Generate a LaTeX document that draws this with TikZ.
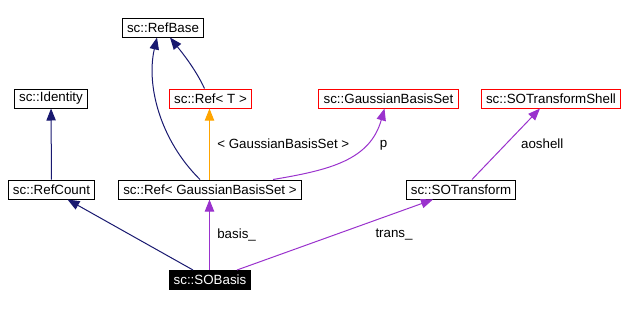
\documentclass[tikz,border=0pt]{standalone}
\usepackage{fontspec}
\setmainfont{Liberation Sans}
\usepackage{xcolor}
\usetikzlibrary{arrows.meta, calc}

\definecolor{inhblue}{HTML}{191970}
\definecolor{usepurple}{HTML}{9A32CD}
\definecolor{tmplorange}{HTML}{FFA500}

\begin{document}
\begin{tikzpicture}[x=0.75pt, y=-0.75pt, line width=0.75pt,
    box/.style={draw, rectangle, minimum height=14.25pt, inner xsep=3.5pt, inner ysep=0pt, font=\fontsize{10}{12}\selectfont},
    undoc/.style={box, draw=red},
    lbl/.style={inner sep=0pt, font=\fontsize{10}{12}\selectfont},
    inherit/.style={draw=inhblue, -{Triangle[length=9pt, width=7pt, fill=inhblue]}},
    member/.style={draw=usepurple, -{Triangle[length=9pt, width=7pt, fill=usepurple]}},
    templ/.style={draw=tmplorange, -{Triangle[length=9pt, width=7pt, fill=tmplorange]}}]

    \useasboundingbox (0,0) rectangle (626,308);

    % Top row
    \node (refbase) [box] at (163,27.5) {sc::RefBase};

    % Second row
    \node (identity) [box] at (51,98.5) {sc::Identity};
    \node (reft) [undoc] at (210.5,98.5) {sc::Ref< T >};
    \node (gbs) [undoc] at (388.5,98.5) {sc::GaussianBasisSet};
    \node (sotshell) [undoc] at (551,98.5) {sc::SOTransformShell};

    % Third row
    \node (refcount) [box] at (51.5,189.5) {sc::RefCount};
    \node (refgbs) [box] at (210,189.5) {sc::Ref< GaussianBasisSet >};
    \node (sotrans) [box] at (461,189.5) {sc::SOTransform};

    % The documented class
    \node (sobasis) [box, fill=black, text=white] at (210,280) {sc::SOBasis};

    % Inheritance
    \draw[inherit] (refcount) -- (identity);
    \draw[inherit] ($(refgbs.north)+(-10,0)$) .. controls (160,140) and (146,85) .. ($(refbase.south)+(-6,0)$);
    \draw[inherit] ($(reft.north)+(-6,0)$) .. controls (195,68) and (180,50) .. ($(refbase.south)+(7,0)$);
    \draw[inherit] ($(sobasis.north)+(-17,0)$) -- ($(refcount.south)+(16,0)$);

    % Template instance
    \draw[templ] (refgbs.north -| 209.5,0) -- node[lbl, right=5.5pt] {< GaussianBasisSet >} (reft.south -| 209.5,0);

    % Members
    \draw[member] (sobasis.north -| 209.5,0) -- node[lbl, right=5.5pt] {basis\_} (refgbs.south -| 209.5,0);
    \draw[member] ($(sobasis.north)+(27,0)$) -- node[lbl, right=30pt] {trans\_} ($(sotrans.south)+(-28,0)$);
    \draw[member] ($(refgbs.north)+(63,0)$) .. controls (330,170) and (370,160) .. node[lbl, right=26pt, yshift=11pt] {p} ($(gbs.south)+(-4,0)$);
    \draw[member] ($(sotrans.north)+(11,0)$) -- node[lbl, right=11pt] {aoshell} ($(sotshell.south)+(-11,0)$);
\end{tikzpicture}
\end{document}
